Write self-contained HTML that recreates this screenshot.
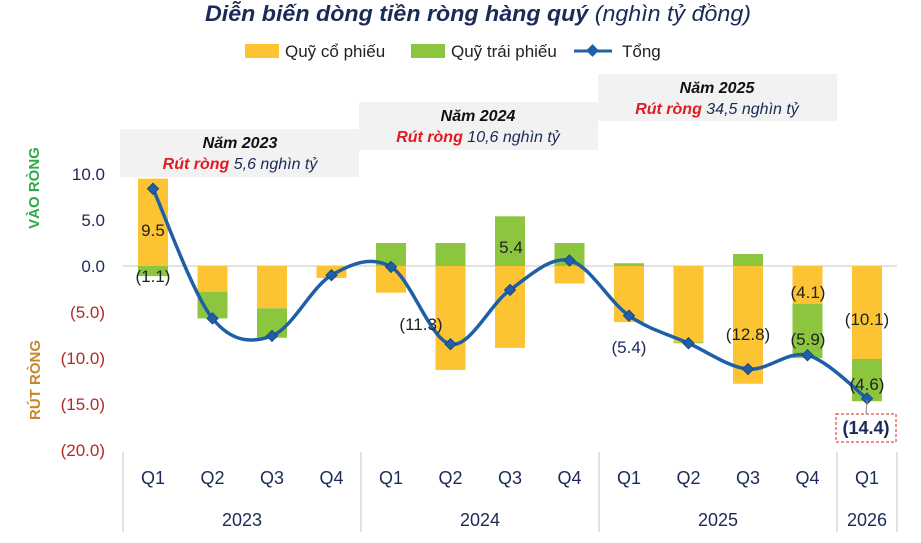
<!DOCTYPE html>
<html><head><meta charset="utf-8"><style>
body{margin:0;background:#fff;width:921px;height:538px;overflow:hidden;font-family:"Liberation Sans",sans-serif}
</style></head><body>
<svg id="s" width="921" height="538" xmlns="http://www.w3.org/2000/svg" font-family="Liberation Sans, sans-serif">
<text x="478" y="21" text-anchor="middle" font-size="22" font-style="italic" fill="#1b2a57" textLength="546" lengthAdjust="spacingAndGlyphs"><tspan font-weight="bold">Diễn biến dòng tiền ròng hàng quý</tspan> (nghìn tỷ đồng)</text>
<rect x="245" y="44" width="34" height="14" fill="#fcc332"/><text x="285" y="57" font-size="17" fill="#222">Quỹ cổ phiếu</text>
<rect x="411" y="44" width="34" height="14" fill="#8cc63f"/><text x="451" y="57" font-size="17" fill="#222">Quỹ trái phiếu</text>
<line x1="574" y1="51" x2="612" y2="51" stroke="#1f5fa8" stroke-width="3"/><rect x="588" y="46" width="9" height="9" fill="#1f5fa8" transform="rotate(45 592.5 50.5)"/><text x="622" y="57" font-size="17" fill="#222">Tổng</text>
<rect x="120" y="129" width="239" height="48" fill="#f2f2f2"/>
<text x="240" y="148" text-anchor="middle" font-size="16" font-weight="bold" font-style="italic" fill="#111">Năm 2023</text>
<text x="240" y="169" text-anchor="middle" font-size="16" font-style="italic" fill="#1b2a57"><tspan fill="#e21b23" font-weight="bold">Rút ròng</tspan> 5,6 nghìn tỷ</text>
<rect x="359" y="102" width="239" height="48" fill="#f2f2f2"/>
<text x="478" y="121" text-anchor="middle" font-size="16" font-weight="bold" font-style="italic" fill="#111">Năm 2024</text>
<text x="478" y="142" text-anchor="middle" font-size="16" font-style="italic" fill="#1b2a57"><tspan fill="#e21b23" font-weight="bold">Rút ròng</tspan> 10,6 nghìn tỷ</text>
<rect x="598" y="74" width="239" height="47" fill="#f2f2f2"/>
<text x="717" y="93" text-anchor="middle" font-size="16" font-weight="bold" font-style="italic" fill="#111">Năm 2025</text>
<text x="717" y="114" text-anchor="middle" font-size="16" font-style="italic" fill="#1b2a57"><tspan fill="#e21b23" font-weight="bold">Rút ròng</tspan> 34,5 nghìn tỷ</text>
<text transform="translate(39,188) rotate(-90)" text-anchor="middle" font-size="15" font-weight="bold" fill="#2eaa4a">VÀO RÒNG</text>
<text transform="translate(40,380) rotate(-90)" text-anchor="middle" font-size="15" font-weight="bold" fill="#c8862a">RÚT RÒNG</text>
<g id="g"></g>
</svg>
<script>
var g=document.getElementById('g'),h='';
function Y(v){return 266-v*9.2}
[10,5,0,-5,-10,-15,-20].forEach(function(v){var t=v>=0?v.toFixed(1):'('+(-v).toFixed(1)+')';
h+='<text x="105" y="'+(Y(v)+6)+'" text-anchor="end" font-size="17" fill="'+(v<0?'#b22a2a':'#1b2a57')+'">'+t+'</text>';});
h+='<line x1="123" y1="266" x2="897" y2="266" stroke="#d9d9d9" stroke-width="1.5"/>';
var d=[[9.5,-1.1],[-2.8,-2.9],[-4.6,-3.2],[-1.3,0],[-2.9,2.5],[-11.3,2.5],[-8.9,5.4],[-1.9,2.5],[-6.1,0.3],[-8.3,-0.1],[-12.8,1.3],[-4.1,-5.9],[-10.1,-4.6]];
var tot=[8.4,-5.7,-7.6,-1.0,-0.1,-8.5,-2.6,0.6,-5.4,-8.4,-11.2,-9.7,-14.4];
function X(i){return 153+i*59.5}
d.forEach(function(b,i){var x=X(i)-15,y=b[0],gr=b[1];
h+='<rect x="'+x+'" y="'+Math.min(Y(0),Y(y))+'" width="30" height="'+Math.abs(y*9.2)+'" fill="#fcc332"/>';
var base=(gr<0&&y<0)?y:0;
h+='<rect x="'+x+'" y="'+Math.min(Y(base),Y(base+gr))+'" width="30" height="'+Math.abs(gr*9.2)+'" fill="#8cc63f"/>';});
var P=tot.map(function(v,i){return [X(i),Y(v)]}),p='M'+P[0];
for(var i=0;i<P.length-1;i++){var a=P[i-1]||P[i],b=P[i],c=P[i+1],e=P[i+2]||c,k=1/6;
p+=' C'+(b[0]+(c[0]-a[0])*k)+','+(b[1]+(c[1]-a[1])*k)+' '+(c[0]-(e[0]-b[0])*k)+','+(c[1]-(e[1]-b[1])*k)+' '+c[0]+','+c[1];}
h+='<path d="'+p+'" fill="none" stroke="#1f5fa8" stroke-width="3.5"/>';
P.forEach(function(q){h+='<rect x="'+(q[0]-4)+'" y="'+(q[1]-4)+'" width="8" height="8" fill="#1f5fa8" stroke="#1b3f7a" stroke-width="0.8" transform="rotate(45 '+q[0]+' '+q[1]+')"/>';});
var L=[[153,230,'9.5'],[153,276,'(1.1)'],[511,247,'5.4'],[421,324,'(11.3)'],[629,347,'(5.4)'],[748,334,'(12.8)'],[808,292,'(4.1)'],[808,339,'(5.9)'],[867,319,'(10.1)'],[867,384,'(4.6)']];
L.forEach(function(l){h+='<text x="'+l[0]+'" y="'+(l[1]+6)+'" text-anchor="middle" font-size="17" fill="'+(l[2]=='(5.4)'?'#1b2a57':'#222')+'">'+l[2]+'</text>';});
h+='<rect x="836" y="414" width="60" height="28" fill="none" stroke="#d22" stroke-dasharray="3,2"/><line x1="867" y1="400" x2="866" y2="414" stroke="#888"/>';
h+='<text x="866" y="434" text-anchor="middle" font-size="18" font-weight="bold" fill="#1b2a57">(14.4)</text>';
for(i=0;i<13;i++){h+='<text x="'+X(i)+'" y="484" text-anchor="middle" font-size="18" fill="#1b2a57">Q'+(i%4+1)+'</text>';}
[123,361,599,837,897].forEach(function(x){h+='<line x1="'+x+'" y1="452" x2="'+x+'" y2="532" stroke="#d9d9d9" stroke-width="1.5"/>';});
[[242,'2023'],[480,'2024'],[718,'2025'],[867,'2026']].forEach(function(y){h+='<text x="'+y[0]+'" y="526" text-anchor="middle" font-size="18" fill="#1b2a57">'+y[1]+'</text>';});
g.innerHTML=h;
</script>
</body></html>
